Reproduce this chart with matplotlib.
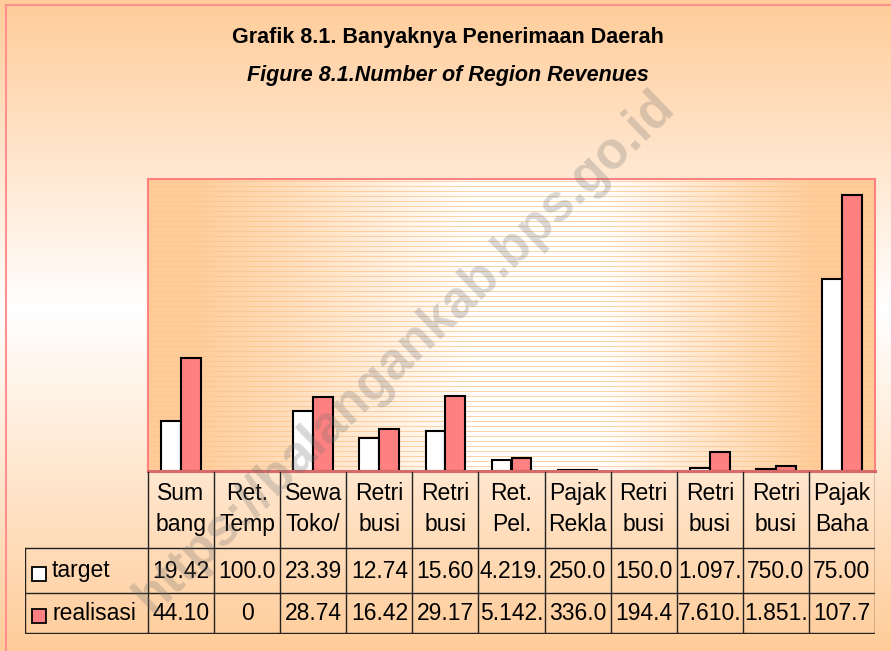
import numpy as np
import matplotlib.pyplot as plt
from matplotlib.lines import Line2D

plt.rcParams['font.family'] = ['Liberation Sans', 'DejaVu Sans']

# data (values in millions, as drawn by the bars)
categories = ['Sum\nbang', 'Ret.\nTemp', 'Sewa\nToko/', 'Retri\nbusi', 'Retri\nbusi', 'Ret.\nPel.',
              'Pajak\nRekla', 'Retri\nbusi', 'Retri\nbusi', 'Retri\nbusi', 'Pajak\nBaha']
target = [19.42, 0.1, 23.39, 12.74, 15.60, 4.219, 0.25, 0.15, 1.097, 0.75, 75.00]
realisasi = [44.10, 0, 28.74, 16.42, 29.17, 5.142, 0.336, 0.1944, 7.610, 1.851, 107.7]
target_labels = ['19.42', '100.0', '23.39', '12.74', '15.60', '4.219.', '250.0', '150.0', '1.097.', '750.0', '75.00']
realisasi_labels = ['44.10', '0', '28.74', '16.42', '29.17', '5.142.', '336.0', '194.4', '7.610.', '1.851.', '107.7']
series_names = ['target', 'realisasi']

W, H = 891, 651
ORANGE = np.array([255, 204, 153]) / 255
WHITE = np.array([1.0, 1.0, 1.0])
PINK = '#FF8080'


def rect(x0, y0, x1, y1):
    # pixel box (top-left origin) -> figure fraction rect
    return [x0 / W, 1 - y1 / H, (x1 - x0) / W, (y1 - y0) / H]


fig = plt.figure(figsize=(W / 100, H / 100), dpi=100)

# figure background: vertical gradient orange -> white -> orange
bg = fig.add_axes([0, 0, 1, 1], zorder=-10)
yy = np.arange(H)
w = np.interp(yy, [0, 310, H], [0, 1, 0])
grad = ORANGE[None, :] * (1 - w[:, None]) + WHITE[None, :] * w[:, None]
bg.imshow(grad[:, None, :], aspect='auto', extent=(0, 1, 0, 1))
bg.set_axis_off()
fig.add_artist(Line2D([5.5 / W, 5.5 / W], [0, 1 - 4.5 / H], color='#FF9090', lw=1.5))
fig.add_artist(Line2D([5.5 / W, 1], [1 - 4.5 / H, 1 - 4.5 / H], color='#FF9090', lw=1.5))

# main plot area
ax = fig.add_axes(rect(148, 179, 875, 471))
pw, ph = 727, 292
xs = np.linspace(0, 1, pw)
wx = np.interp(xs, [0, 0.06, 0.45, 0.62, 0.92, 1], [0, 0, 1, 1, 0, 0])
area = ORANGE[None, None, :] * (1 - wx[None, :, None]) + WHITE[None, None, :] * wx[None, :, None]
area = np.repeat(area, ph, axis=0)
stripe = np.array([250, 198, 140]) / 255
area[2::5, :, :] = stripe[None, :] * 0.75 + area[2::5, :, :] * 0.25
ax.imshow(area, aspect='auto', extent=(0, 1, 0, 1), transform=ax.transAxes,
          interpolation='nearest', zorder=0)

x = np.arange(len(categories))
ax.bar(x - 0.15, target, 0.3, color='white', edgecolor='black', lw=1.5, zorder=3)
ax.bar(x + 0.15, realisasi, 0.3, color=PINK, edgecolor='black', lw=1.5, zorder=3)
ax.set_xlim(-0.5, len(categories) - 0.5)
ax.set_ylim(0, 114)
ax.set_xticks([])
ax.set_yticks([])
for s in ['top', 'left', 'right']:
    ax.spines[s].set_color(PINK)
    ax.spines[s].set_linewidth(1.5)
ax.spines['bottom'].set_color('#D86A6A')
ax.spines['bottom'].set_linewidth(2.2)
ax.spines['bottom'].set_zorder(5)

# data table below the plot
x_left = -0.5 - (148 - 25) * len(categories) / pw
ax_t = fig.add_axes(rect(25, 471, 875, 634))
ax_t.set_xlim(x_left, len(categories) - 0.5)
ax_t.set_ylim(634, 471)
ax_t.set_axis_off()
lc = '#222222'
for i in range(len(categories) + 1):
    ax_t.plot([i - 0.5, i - 0.5], [472, 633], color=lc, lw=1)
for yl in [548, 592.5, 633]:
    ax_t.plot([x_left, len(categories) - 0.5], [yl, yl], color=lc, lw=1)
ax_t.plot([x_left, x_left], [548, 633], color=lc, lw=1)

fs = 16.5
for i, cat in enumerate(categories):
    ax_t.text(i, 509, cat, ha='center', va='center', fontsize=fs, linespacing=1.45)
    ax_t.text(i, 571, target_labels[i], ha='center', va='center', fontsize=fs)
    ax_t.text(i, 613, realisasi_labels[i], ha='center', va='center', fontsize=fs)

px = len(categories) / pw
ax_t.plot([x_left + 13.5 * px], [573.5], marker='s', ms=9.5, mfc='white', mec='black', mew=1.3)
ax_t.plot([x_left + 13.5 * px], [616], marker='s', ms=9.5, mfc=PINK, mec='black', mew=1.3)
ax_t.text(x_left + 27 * px, 571, series_names[0], ha='left', va='center', fontsize=fs)
ax_t.text(x_left + 27 * px, 613, series_names[1], ha='left', va='center', fontsize=fs)

# titles
fig.text(448 / W, 1 - 37 / H, 'Grafik 8.1. Banyaknya Penerimaan Daerah',
         ha='center', va='center', fontsize=15.5, weight='bold')
fig.text(448 / W, 1 - 75 / H, 'Figure 8.1.Number of Region Revenues',
         ha='center', va='center', fontsize=15.5, weight='bold', style='italic')

# watermark
fig.text(405 / W, 1 - 352 / H, 'https://balangankab.bps.go.id', ha='center', va='center',
         rotation=44, rotation_mode='anchor', fontsize=37, weight='bold',
         color='#707070', alpha=0.27, zorder=20)

fig.savefig('out.png', dpi=100)
